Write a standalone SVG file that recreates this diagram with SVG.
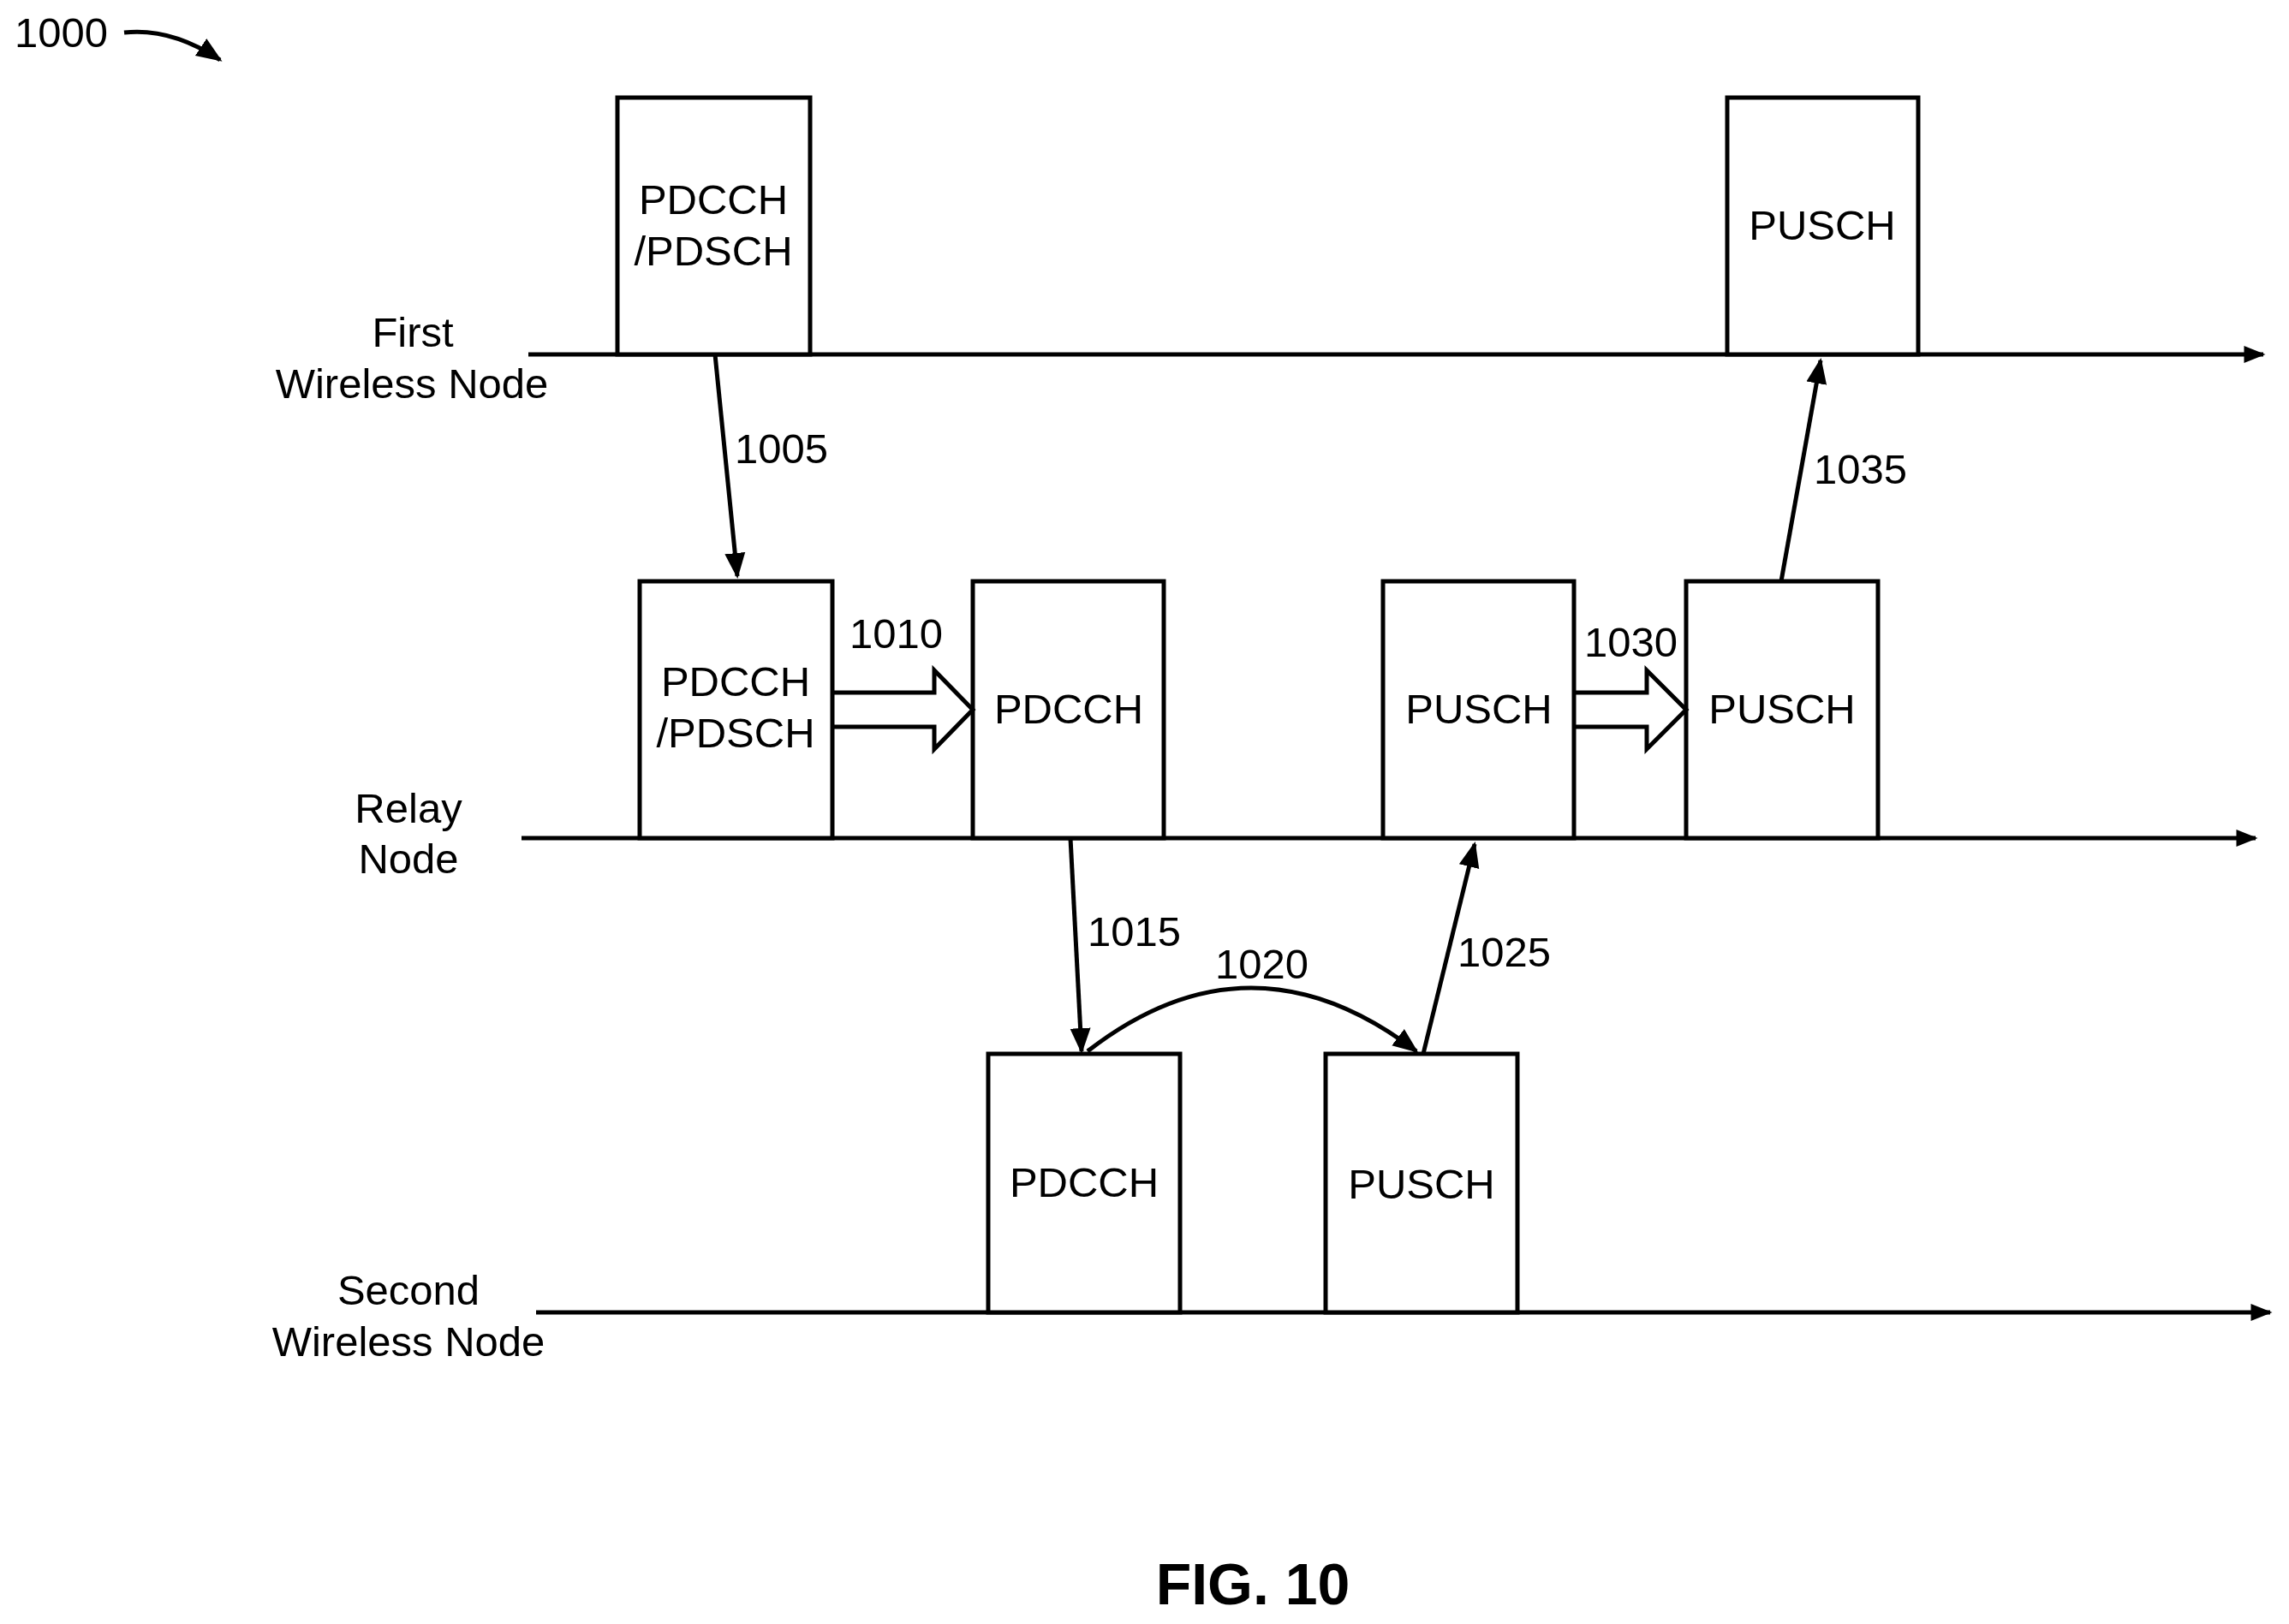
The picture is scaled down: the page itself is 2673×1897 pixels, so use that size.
<svg xmlns="http://www.w3.org/2000/svg" width="2673" height="1897" viewBox="0 0 2673 1897">
<style>
text{font-family:"Liberation Sans",Arial,sans-serif;font-size:49px;fill:#000}
.c{text-anchor:middle}
.box{fill:#fff;stroke:#000;stroke-width:5}
.ln{stroke:#000;stroke-width:5;fill:none}
</style>
<defs>
<marker id="ah" viewBox="0 0 10 10" refX="9" refY="5" markerWidth="6" markerHeight="6" markerUnits="strokeWidth" orient="auto"><path d="M0,1 L10,5 L0,9 Z" fill="#000"/></marker>
<marker id="ah2" viewBox="0 0 10 10" refX="9" refY="5" markerWidth="9" markerHeight="5" markerUnits="strokeWidth" orient="auto"><path d="M0,1 L10,5 L0,9 Z" fill="#000"/></marker>
</defs>
<rect width="2673" height="1897" fill="#fff"/>
<g id="timelines">
<line class="ln" x1="617" y1="414" x2="2643" y2="414" marker-end="url(#ah2)"/>
<line class="ln" x1="609" y1="979" x2="2634" y2="979" marker-end="url(#ah2)"/>
<line class="ln" x1="626" y1="1533" x2="2651" y2="1533" marker-end="url(#ah2)"/>
<text class="c" x="482" y="405">First</text><text class="c" x="481" y="465">Wireless Node</text>
<text class="c" x="477" y="961">Relay</text><text class="c" x="477" y="1020">Node</text>
<text class="c" x="477" y="1524">Second</text><text class="c" x="477" y="1584">Wireless Node</text>
</g>
<g id="n1"><rect class="box" x="721" y="114" width="225" height="300"/><text class="c" x="833" y="250">PDCCH</text><text class="c" x="833" y="310">/PDSCH</text></g>
<g id="n2"><rect class="box" x="2017" y="114" width="223" height="300"/><text class="c" x="2128" y="280">PUSCH</text></g>
<g id="n3"><rect class="box" x="747" y="679" width="225" height="300"/><text class="c" x="859" y="813">PDCCH</text><text class="c" x="859" y="873">/PDSCH</text></g>
<g id="n4"><rect class="box" x="1136" y="679" width="223" height="300"/><text class="c" x="1248" y="845">PDCCH</text></g>
<g id="n5"><rect class="box" x="1615" y="679" width="223" height="300"/><text class="c" x="1727" y="845">PUSCH</text></g>
<g id="n6"><rect class="box" x="1969" y="679" width="224" height="300"/><text class="c" x="2081" y="845">PUSCH</text></g>
<g id="n7"><rect class="box" x="1154" y="1231" width="224" height="302"/><text class="c" x="1266" y="1398">PDCCH</text></g>
<g id="n8"><rect class="box" x="1548" y="1231" width="224" height="302"/><text class="c" x="1660" y="1400">PUSCH</text></g>
<g id="connectors">
<line class="ln" x1="835" y1="414" x2="861" y2="673" stroke-width="4" marker-end="url(#ah)"/>
<path class="ln" d="M972,809 H1091 V783 L1136,829 L1091,875 V849 H972" stroke-width="5"/>
<line class="ln" x1="1250" y1="979" x2="1263" y2="1228" stroke-width="4" marker-end="url(#ah)"/>
<path class="ln" d="M1270,1228 Q1460,1080 1654,1228" stroke-width="4" marker-end="url(#ah)"/>
<line class="ln" x1="1662" y1="1231" x2="1722" y2="986" stroke-width="4" marker-end="url(#ah)"/>
<path class="ln" d="M1838,809 H1923 V783 L1969,829 L1923,875 V849 H1838" stroke-width="5"/>
<line class="ln" x1="2080" y1="679" x2="2126" y2="421" stroke-width="4" marker-end="url(#ah)"/>
<path class="ln" d="M145,38 Q200,32 257,70" stroke-width="4" marker-end="url(#ah)"/>
</g>
<g id="labels">
<text x="858" y="541">1005</text>
<text x="992" y="757">1010</text>
<text x="1270" y="1105">1015</text>
<text x="1419" y="1143">1020</text>
<text x="1702" y="1129">1025</text>
<text x="1850" y="767">1030</text>
<text x="2118" y="565">1035</text>
<text x="17" y="55">1000</text>
<text class="c" x="1463" y="1874" style="font-size:68px;font-weight:bold">FIG. 10</text>
</g>
</svg>
